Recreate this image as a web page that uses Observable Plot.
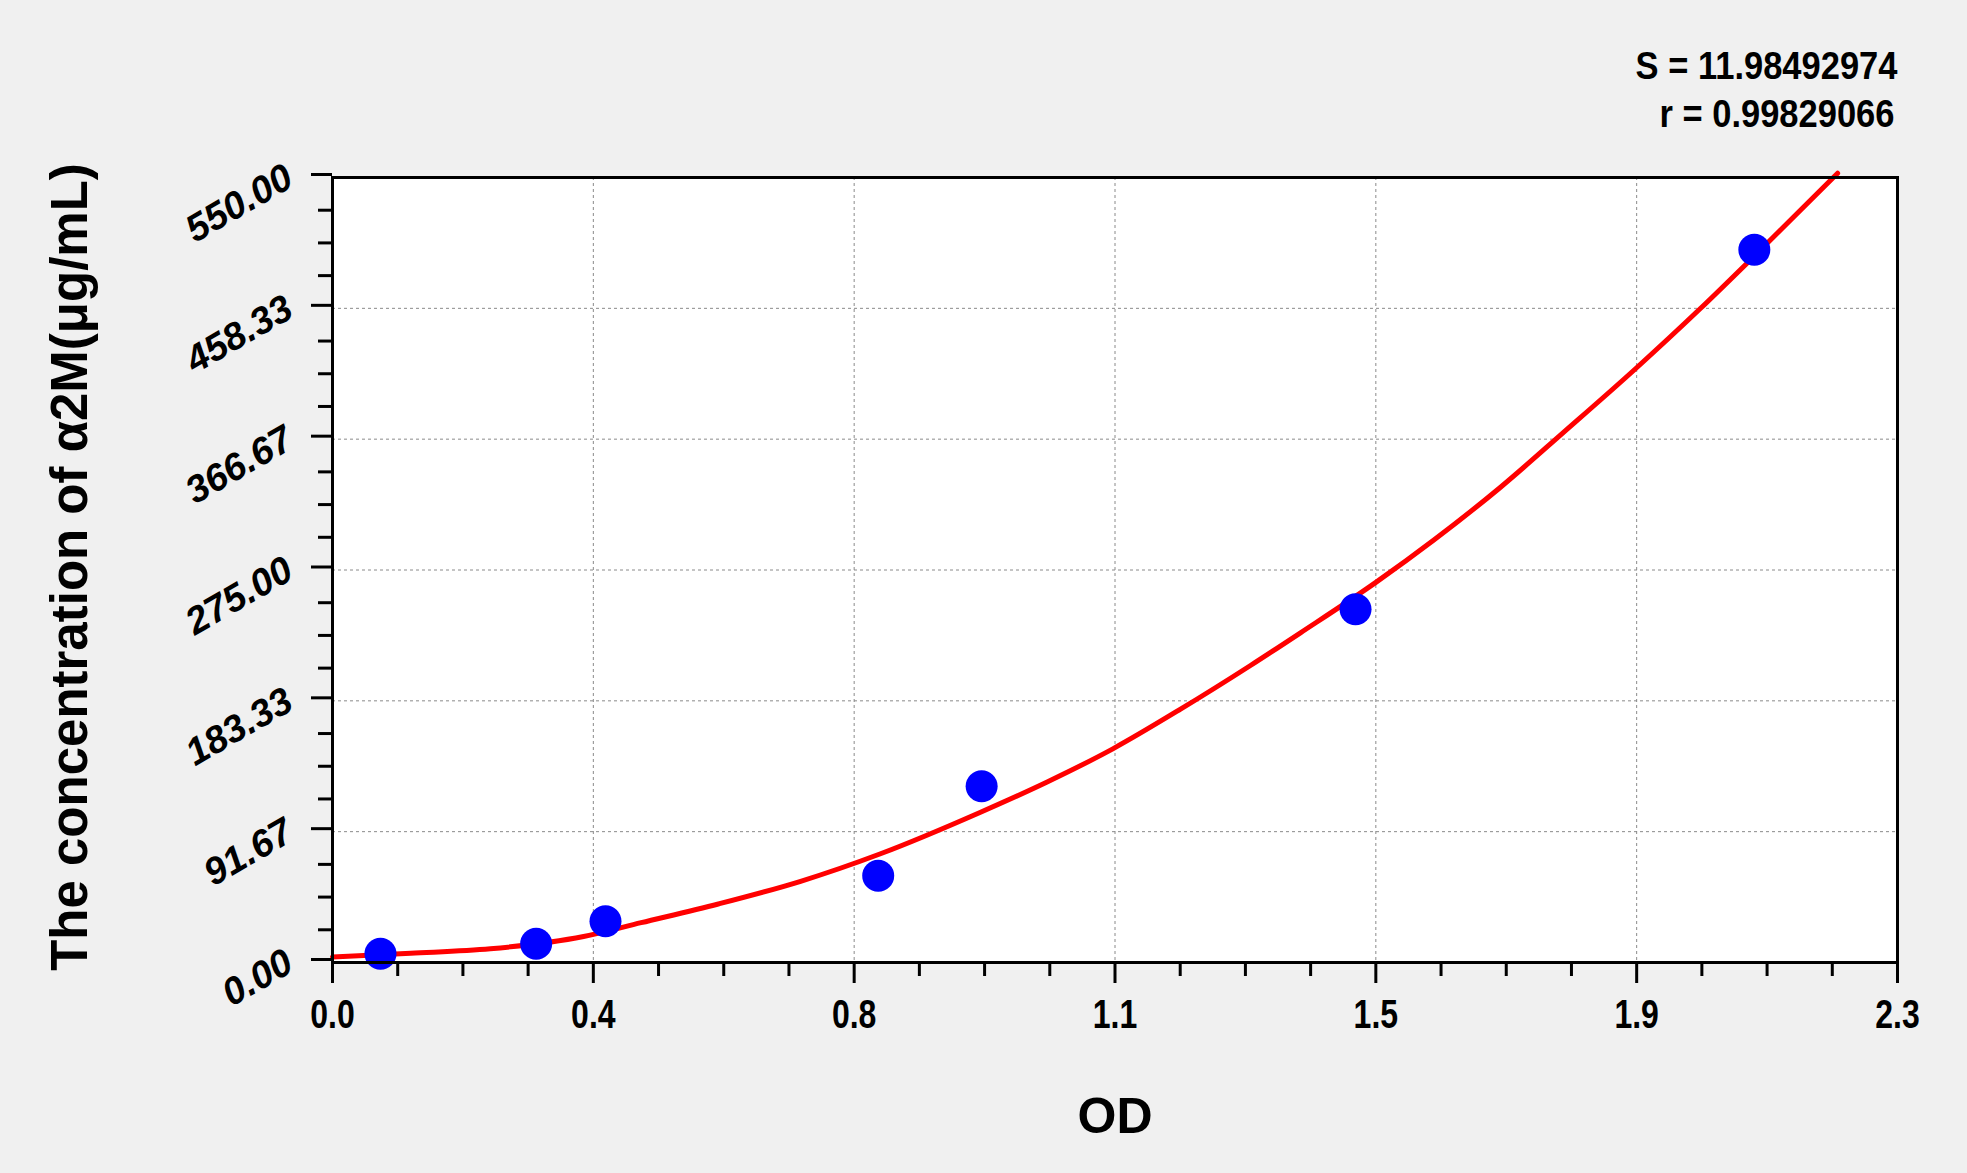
<!DOCTYPE html>
<html><head><meta charset="utf-8">
<script src="https://cdn.jsdelivr.net/npm/d3@7"></script>
<script src="https://cdn.jsdelivr.net/npm/@observablehq/plot@0.6"></script>
<style>
html,body{margin:0;padding:0;background:#f0f0f0;}
#chart svg{display:block;}
</style></head><body><div id="chart"></div>
<script>
// measured standards
const odValues   = [0.0705, 0.2993, 0.4012, 0.802, 0.954, 1.5035, 2.0896];
const concValues = [6.1, 13.1, 28.9, 60.8, 123.5, 247.5, 499.4];
// fitted curve
const curveOD   = [0, 0.115, 0.232, 0.369, 0.4536, 0.567, 0.688, 0.8054, 0.9524, 1.0503, 1.1468, 1.2463, 1.3491, 1.4226, 1.5339, 1.6186, 1.7166, 1.8096, 1.915, 2.0099, 2.0896, 2.212];
const curveConc = [3.9, 6.5, 9.6, 18.2, 27.9, 41, 56.9, 76.2, 105.3, 126.5, 149.7, 177.5, 208.1, 231, 266.5, 296, 333, 371.6, 416, 458, 495, 553];
// axes
const xTickValues = [0, 0.38333, 0.76667, 1.15, 1.53333, 1.91667, 2.3];
const xTickLabels = ["0.0", "0.4", "0.8", "1.1", "1.5", "1.9", "2.3"];
const yTickValues = [0, 91.667, 183.333, 275, 366.667, 458.333, 550];
const yTickLabels = ["0.00", "91.67", "183.33", "275.00", "366.67", "458.33", "550.00"];
const statLines = ["S = 11.98492974", "r = 0.99829066"];
const xTitle = "OD";
const yTitle = "The concentration of α2M(μg/mL)";

const points = odValues.map((x, i) => ({x, y: concValues[i]}));
const curve = curveOD.map((x, i) => ({x, y: curveConc[i]}));
const xMinor = d3.range(0, 25).filter(i => i % 4).map(i => i * 2.3 / 24);
const yMinor = d3.range(0, 25).filter(i => i % 4).map(i => i * 550 / 24);
const xLab = new Map(xTickValues.map((v, i) => [v, xTickLabels[i]]));
const yLab = new Map(yTickValues.map((v, i) => [v, yTickLabels[i]]));

const sans = "'Liberation Sans', Arial, sans-serif";

const plot = Plot.plot({
  width: 1967, height: 1173,
  marginLeft: 332, marginRight: 70, marginTop: 177, marginBottom: 211,
  style: {background: "#f0f0f0", fontFamily: sans, overflow: "visible", color: "black"},
  x: {domain: [0, 2.3], label: null},
  y: {domain: [0, 550], label: null},
  marks: [
    Plot.frame({fill: "white", stroke: "none"}),
    Plot.gridX(xTickValues.slice(1, -1), {stroke: "#8a8a8a", strokeOpacity: 1, strokeWidth: 1, strokeDasharray: "3,3"}),
    Plot.gridY(yTickValues.slice(1, -1), {stroke: "#8a8a8a", strokeOpacity: 1, strokeWidth: 1, strokeDasharray: "3,3"}),
    Plot.line(curve, {x: "x", y: "y", stroke: "#ff0000", strokeWidth: 5, curve: "monotone-x"}),
    Plot.dot(points, {x: "x", y: "y", r: 16, fill: "#0000ff", stroke: "none"}),
    Plot.frame({stroke: "black", strokeWidth: 3}),
    Plot.axisX(xMinor, {tickSize: 14, strokeWidth: 3, tickFormat: () => "", label: null}),
    Plot.axisX(xTickValues, {tickSize: 21, strokeWidth: 3, tickPadding: 16, tickFormat: d => xLab.get(d),
      fontSize: 40, fontWeight: "bold", fontFamily: sans, label: null}),
    Plot.axisY(yMinor, {tickSize: 14, strokeWidth: 3, tickFormat: () => "", label: null}),
    Plot.axisY(yTickValues, {tickSize: 21, strokeWidth: 3, tickPadding: 22, tickRotate: -30, dy: -3, tickFormat: d => yLab.get(d),
      fontSize: 38, fontWeight: "bold", fontStyle: "italic", fontFamily: sans, label: null}),
    Plot.text([xTitle], {text: d => d, frameAnchor: "bottom", dy: 170, textAnchor: "middle", lineAnchor: "bottom",
      fontSize: 50, fontWeight: "bold", fontFamily: sans}),
    Plot.text([yTitle], {text: d => d, frameAnchor: "left", dx: -246, dy: -3, rotate: -90, textAnchor: "middle", lineAnchor: "bottom",
      fontSize: 51, fontWeight: "bold", fontFamily: sans}),
    Plot.text([statLines[0]], {text: d => d, frameAnchor: "top-right", dy: -99, textAnchor: "end", lineAnchor: "bottom",
      fontSize: 39, fontWeight: "bold", fontFamily: sans}),
    Plot.text([statLines[1]], {text: d => d, frameAnchor: "top-right", dx: -3, dy: -51, textAnchor: "end", lineAnchor: "bottom",
      fontSize: 39, fontWeight: "bold", fontFamily: sans})
  ]
});
// condensed (narrow) lettering for the x tick labels and the statistics
const condense = (sel, k) => sel.each(function () {
  const t = this.getAttribute("transform") || "";
  this.setAttribute("transform", (t + ` scale(${k},1)`).trim());
});
condense(d3.select(plot).selectAll('g[aria-label="x-axis tick label"] text'), 0.8);
condense(d3.select(plot).selectAll("text").filter(function () {
  return statLines.includes(this.textContent);
}), 0.885);
document.getElementById("chart").appendChild(plot);
</script>
</body></html>
